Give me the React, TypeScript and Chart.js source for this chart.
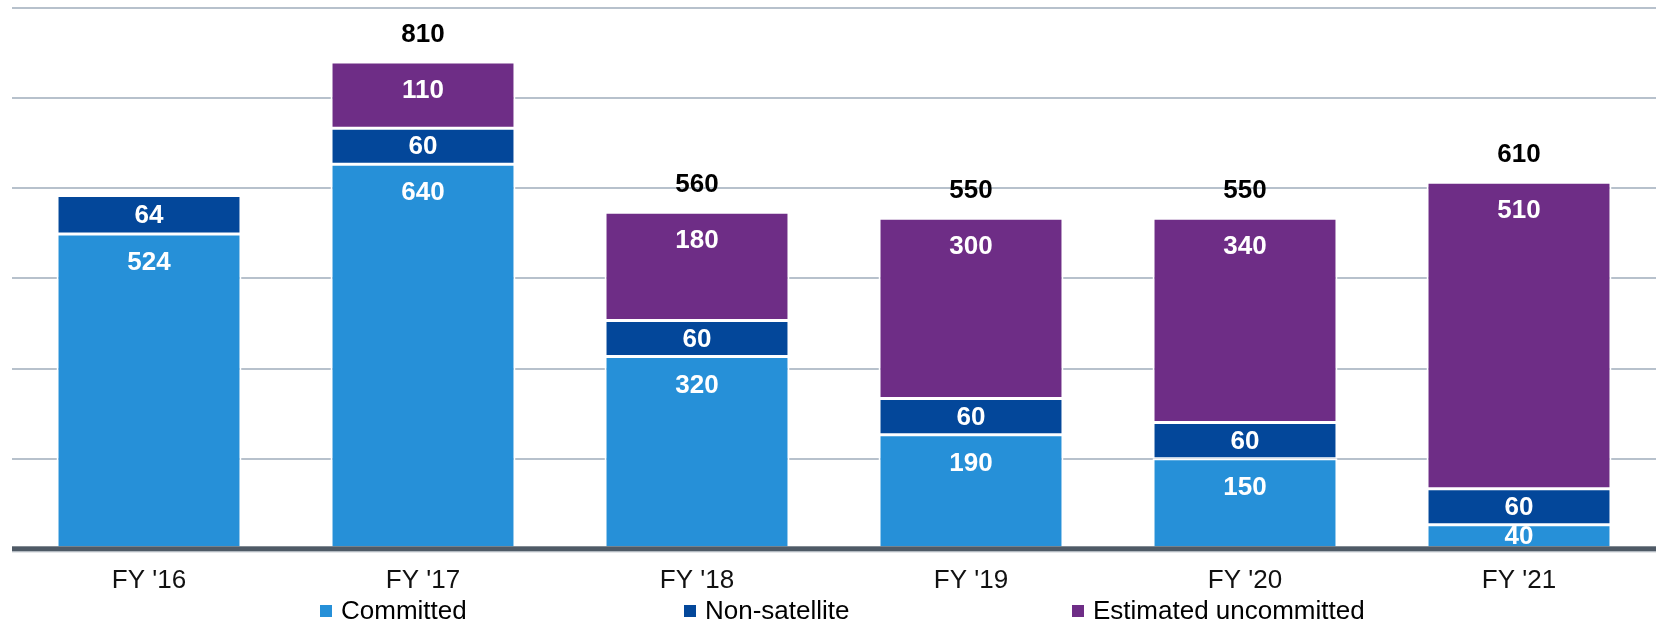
import React, { useEffect, useRef } from "react";
import { Chart, registerables } from "chart.js";

Chart.register(...registerables);

const categories = ["FY '16", "FY '17", "FY '18", "FY '19", "FY '20", "FY '21"];
const committed = [524, 640, 320, 190, 150, 40];
const nonSatellite = [64, 60, 60, 60, 60, 60];
const uncommitted = [null, 110, 180, 300, 340, 510];
const totalLabels = [null, 810, 560, 550, 550, 610];

const seriesNames = ["Committed", "Non-satellite", "Estimated uncommitted"];
const seriesColors = ["#2690d8", "#03479a", "#6e2d86"];

const FONT = "'Liberation Sans', Arial, sans-serif";

const labelPlugin = {
  id: "customLabels",
  afterDatasetsDraw(chart: any) {
    const ctx = chart.ctx;
    const area = chart.chartArea;
    ctx.save();
    // baseline
    ctx.fillStyle = "#4f5a66";
    ctx.fillRect(area.left, area.bottom - 2.5, chart.width - area.left, 5);
    ctx.fillStyle = "#a9b1ba";
    ctx.fillRect(area.left, area.bottom + 2.5, chart.width - area.left, 1);

    ctx.textAlign = "center";
    ctx.textBaseline = "middle";
    ctx.font = `bold 26px ${FONT}`;
    ctx.fillStyle = "#ffffff";
    chart.data.datasets.forEach((ds: any, di: number) => {
      const meta = chart.getDatasetMeta(di);
      meta.data.forEach((bar: any, i: number) => {
        const v = ds.data[i];
        if (v == null || v === 0) return;
        const top = Math.min(bar.y, bar.base);
        const h = Math.abs(bar.base - bar.y);
        const y = top + Math.min(28, h / 2) + 1;
        ctx.fillText(String(v), bar.x, y);
      });
    });

    // totals
    ctx.fillStyle = "#000000";
    const lastMeta = chart.getDatasetMeta(chart.data.datasets.length - 1);
    const metas = chart.data.datasets.map((_: any, di: number) => chart.getDatasetMeta(di));
    totalLabels.forEach((t, i) => {
      if (t == null) return;
      let top = Infinity;
      metas.forEach((m: any) => {
        const b = m.data[i];
        if (b && chart.data.datasets[m.index].data[i] != null) top = Math.min(top, b.y);
      });
      const x = lastMeta.data[i].x;
      ctx.fillText(String(t), x, top - 27);
    });

    // legend
    const legendX = [320, 684, 1072];
    const legendY = 611;
    ctx.textAlign = "left";
    ctx.font = `26px ${FONT}`;
    seriesNames.forEach((name, k) => {
      ctx.fillStyle = seriesColors[k];
      ctx.fillRect(legendX[k], legendY - 6, 12, 12);
      ctx.fillStyle = "#000000";
      ctx.fillText(name, legendX[k] + 21, legendY + 1);
    });
    ctx.restore();
  },
};

export default function App() {
  const ref = useRef<HTMLCanvasElement>(null);
  useEffect(() => {
    if (!ref.current) return;
    const seriesData = [committed, nonSatellite, uncommitted];
    const chart = new Chart(ref.current, {
      type: "bar",
      data: {
        labels: categories,
        datasets: seriesData.map((d, k) => ({
          label: seriesNames[k],
          data: d as any,
          backgroundColor: seriesColors[k],
          borderColor: "#ffffff",
          borderWidth: { top: 1.5, bottom: 1.5, left: 2, right: 2 },
          borderSkipped: false,
          barPercentage: 0.675,
          categoryPercentage: 1,
        })),
      },
      options: {
        animation: false,
        responsive: true,
        maintainAspectRatio: false,
        layout: { padding: { left: 12, top: 8, right: 0, bottom: 13 } },
        plugins: { legend: { display: false }, tooltip: { enabled: false } },
        scales: {
          x: {
            stacked: true,
            grid: { display: false, drawTicks: false },
            border: { display: false },
            ticks: { color: "#111111", font: { size: 26, family: FONT }, padding: 16 },
          },
          y: {
            stacked: true,
            min: 0,
            max: 900,
            grid: { color: "#b7c1cc", lineWidth: 2, drawTicks: false },
            border: { display: false },
            ticks: { display: false, stepSize: 150 },
          },
        },
      },
      plugins: [labelPlugin],
    });
    return () => chart.destroy();
  }, []);
  return (
    <div style={{ position: "absolute", left: 0, top: 0, width: 1656, height: 625, background: "#fff" }}>
      <canvas ref={ref} />
    </div>
  );
}
